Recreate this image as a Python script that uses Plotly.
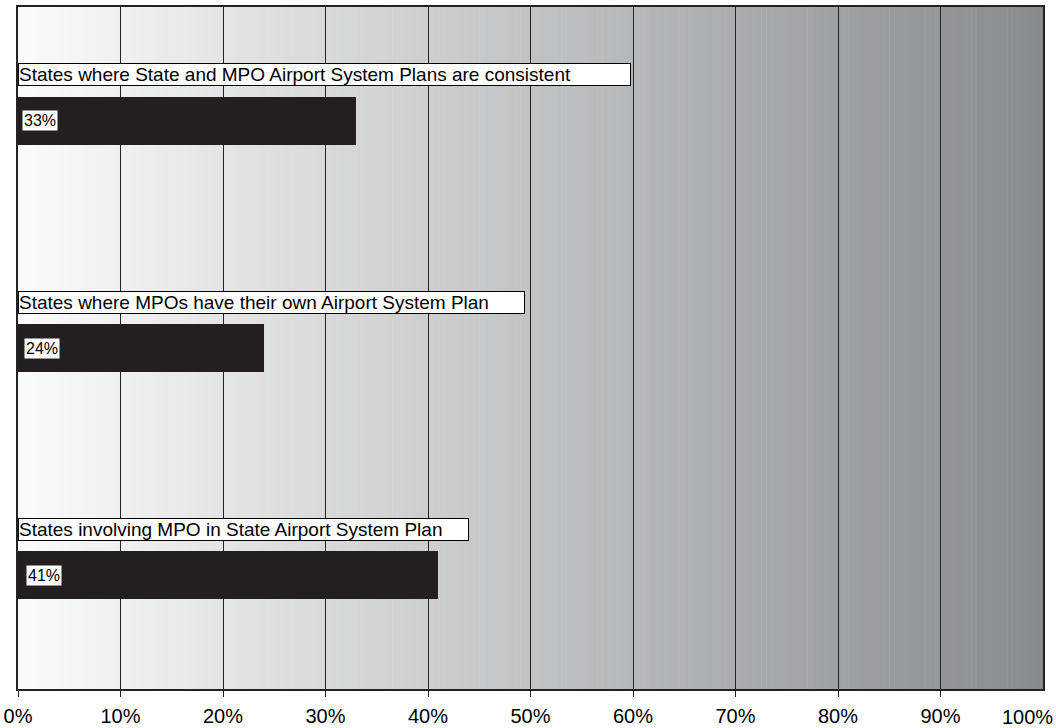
import plotly.graph_objects as go

categories = [
    "States where State and MPO Airport System Plans are consistent",
    "States where MPOs have their own Airport System Plan",
    "States involving MPO in State Airport System Plan",
]
values = [33, 24, 41]
value_labels = ["33%", "24%", "41%"]
tick_vals = [0, 10, 20, 30, 40, 50, 60, 70, 80, 90, 100]
tick_text = ["0%", "10%", "20%", "30%", "40%", "50%", "60%", "70%", "80%", "90%", "100%"]

FONT = "Liberation Sans, Arial, sans-serif"
ypos = list(range(len(categories)))

fig = go.Figure()
fig.add_trace(go.Bar(
    x=values, y=ypos, orientation="h", width=0.21,
    marker=dict(color="#231f20", line=dict(width=0)),
    hoverinfo="skip", showlegend=False,
))

# background gradient (white -> gray), drawn as thin strips below the grid
shapes = []
c0 = (251, 251, 251)
c1 = (137, 138, 140)
steps = 200
for k in range(steps):
    t = (k + 0.5) / steps
    col = tuple(int(round(c0[j] + (c1[j] - c0[j]) * t)) for j in range(3))
    shapes.append(dict(
        type="rect", xref="x", yref="paper",
        x0=100 * k / steps, x1=100 * (k + 1) / steps + 0.05, y0=0, y1=1,
        fillcolor="rgb(%d,%d,%d)" % col, line=dict(width=0), layer="below",
    ))

box_widths = [611, 505, 449]
annotations = []
for i, (cat, lab) in enumerate(zip(categories, value_labels)):
    annotations.append(dict(
        x=0, y=i, xref="x", yref="y", xanchor="left", yanchor="middle",
        yshift=46, xshift=0, text=cat, showarrow=False, align="left",
        width=box_widths[i],
        font=dict(family=FONT, size=19, color="black"),
        bgcolor="white", bordercolor="black", borderwidth=1, borderpad=0,
    ))
    annotations.append(dict(
        x=0, y=i, xref="x", yref="y", xanchor="left", yanchor="middle",
        xshift=4 + 2 * i, text=lab, showarrow=False,
        font=dict(family=FONT, size=16, color="black"),
        bgcolor="white", borderpad=1,
    ))

# last tick label sits inside the page edge, as in the reference
annotations.append(dict(
    x=1, y=0, xref="paper", yref="paper", xanchor="right", yanchor="top",
    xshift=12, yshift=-15, text=tick_text[-1], showarrow=False,
    font=dict(family=FONT, size=20, color="black"),
))

fig.update_layout(
    width=1056, height=728,
    margin=dict(l=18, r=13, t=7, b=39),
    paper_bgcolor="white", plot_bgcolor="white",
    shapes=shapes, annotations=annotations,
    bargap=0,
    xaxis=dict(
        range=[0, 100], tickvals=tick_vals[:-1], ticktext=tick_text[:-1],
        automargin=False,
        showgrid=True, gridcolor="#222222", gridwidth=1.3,
        ticks="outside", ticklen=6, tickcolor="#222222", tickwidth=1.3,
        ticklabelstandoff=2,
        showline=True, linecolor="#222222", linewidth=1.6, mirror=True,
        zeroline=False, layer="below traces",
        tickfont=dict(family=FONT, size=20, color="black"),
    ),
    yaxis=dict(
        range=[2.5, -0.5], showticklabels=False, showgrid=False, zeroline=False,
        automargin=False,
        showline=True, linecolor="#222222", linewidth=1.6, mirror=True, ticks="",
    ),
)

fig.write_html("out.html")
